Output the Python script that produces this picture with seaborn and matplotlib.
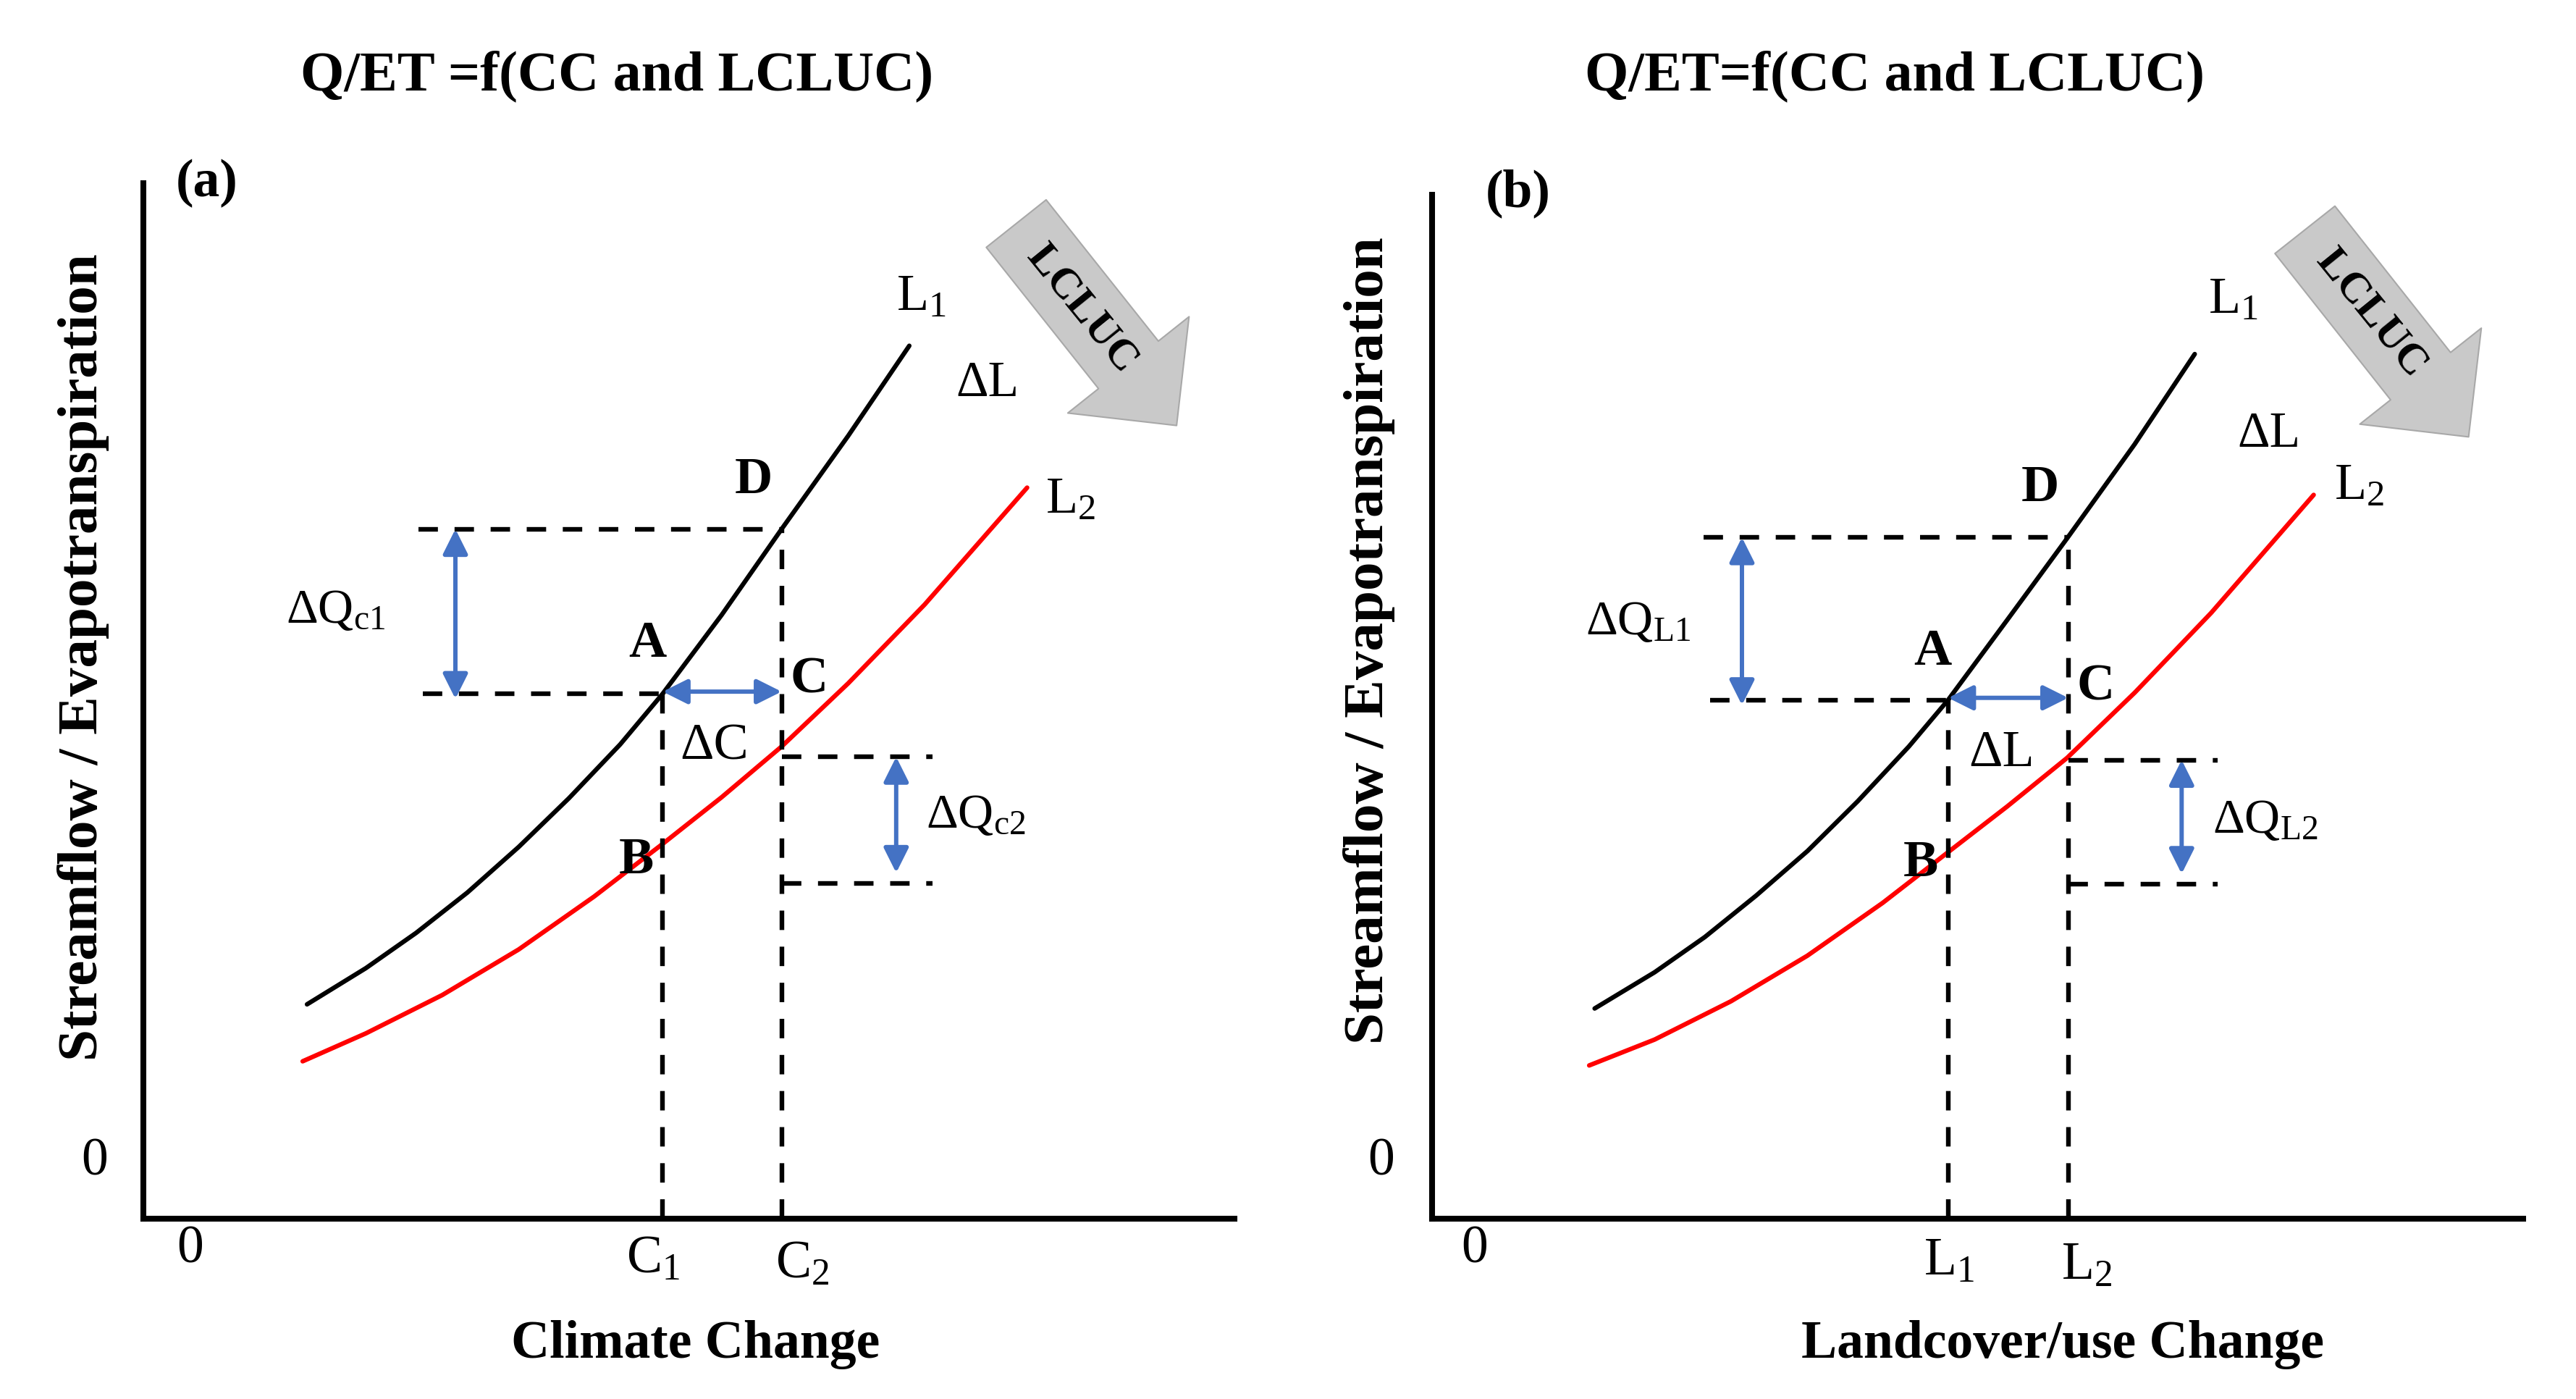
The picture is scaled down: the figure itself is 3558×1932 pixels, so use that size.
import matplotlib
matplotlib.use("Agg")
import matplotlib.pyplot as plt
import seaborn as sns
from matplotlib.patches import FancyArrowPatch, ArrowStyle

# curves (axis units 0-10 on both axes)
a_L1_x = [1.50, 2.04, 2.50, 2.97, 3.44, 3.90, 4.37, 4.76, 5.30, 5.85, 6.46, 7.02]
a_L1_y = [2.07, 2.42, 2.76, 3.15, 3.59, 4.06, 4.58, 5.07, 5.83, 6.66, 7.56, 8.43]
a_L2_x = [1.46, 2.04, 2.74, 3.44, 4.13, 4.76, 5.30, 5.85, 6.46, 7.16, 8.10]
a_L2_y = [1.52, 1.79, 2.16, 2.60, 3.11, 3.62, 4.07, 4.56, 5.17, 5.93, 7.06]

b_L1_x = [1.49, 2.04, 2.50, 2.97, 3.44, 3.90, 4.37, 4.73, 5.27, 5.82, 6.44, 6.99]
b_L1_y = [2.03, 2.38, 2.72, 3.12, 3.55, 4.03, 4.56, 5.01, 5.78, 6.57, 7.48, 8.35]
b_L2_x = [1.44, 2.04, 2.74, 3.44, 4.13, 4.73, 5.27, 5.82, 6.44, 7.14, 8.08]
b_L2_y = [1.48, 1.73, 2.10, 2.54, 3.05, 3.54, 3.98, 4.45, 5.08, 5.85, 6.99]

# change points (x1, x2) and levels (A, D, C, lower bound of dQ2)
a_change = [4.76, 5.85]
a_levels = [5.07, 6.66, 4.46, 3.24]
b_change = [4.73, 5.83]
b_levels = [5.01, 6.58, 4.43, 3.23]

titles = ["Q/ET =f(CC and LCLUC)", "Q/ET=f(CC and LCLUC)"]
panel_tags = ["(a)", "(b)"]
x_labels = ["Climate Change", "Landcover/use Change"]
y_label = "Streamflow / Evapotranspiration"
tick_names = [["C$_{\\mathrm{1}}$", "C$_{\\mathrm{2}}$"], ["L$_{\\mathrm{1}}$", "L$_{\\mathrm{2}}$"]]
dq_names = [["ΔQ$_{\\mathrm{c1}}$", "ΔQ$_{\\mathrm{c2}}$"], ["ΔQ$_{\\mathrm{L1}}$", "ΔQ$_{\\mathrm{L2}}$"]]
dx_names = ["ΔC", "ΔL"]

sns.set_theme(style="white")
plt.rcParams["font.family"] = ["Liberation Serif", "DejaVu Serif"]
plt.rcParams["text.color"] = "black"
plt.rcParams["mathtext.fontset"] = "custom"
plt.rcParams["mathtext.rm"] = "Liberation Serif"
plt.rcParams["mathtext.it"] = "Liberation Serif:italic"
plt.rcParams["mathtext.bf"] = "Liberation Serif:bold"

W, H = 3558, 1932
fig = plt.figure(figsize=(W / 100, H / 100), dpi=100)
fig.patch.set_facecolor("white")

BLUE = "#4472C4"
DASH = (0, (4.2, 3.6))


def draw_panel(ax, L1x, L1y, L2x, L2y, change, levels, i, lay):
    x1, x2 = change
    ya, yd, yc, ylow = levels
    ax.set_xlim(0, 10)
    ax.set_ylim(0, 10)
    ax.set_xticks([])
    ax.set_yticks([])
    ax.set_facecolor("white")
    for s in ["top", "right"]:
        ax.spines[s].set_visible(False)
    for s in ["left", "bottom"]:
        ax.spines[s].set_linewidth(5.8)
        ax.spines[s].set_color("black")
    ax.spines["left"].set_bounds(0, lay["spine_top"])

    sns.lineplot(x=L1x, y=L1y, ax=ax, color="black", linewidth=4.5,
                 sort=False, estimator=None, legend=False)
    sns.lineplot(x=L2x, y=L2y, ax=ax, color="#ff0000", linewidth=4.5,
                 sort=False, estimator=None, legend=False)
    for ln in ax.lines:
        ln.set_solid_joinstyle("round")

    dk = dict(color="black", lw=4.6, ls=DASH, zorder=3)
    ax.plot([x1, x1], [0, ya], **dk)
    ax.plot([x2, x2], [0, yd], **dk)
    ax.plot([lay["top_start"], x2], [yd, yd], **dk)
    ax.plot([lay["low_start"], x1], [ya, ya], **dk)
    ax.plot([x2, lay["small_end"]], [yc, yc], **dk)
    ax.plot([x2, lay["small_end"]], [ylow, ylow], **dk)

    ap = dict(arrowstyle="<|-|>,head_length=0.4,head_width=0.2", color=BLUE,
              lw=4.3, mutation_scale=52, shrinkA=0, shrinkB=0)
    ax.annotate("", xy=(lay["arr1_x"], yd), xytext=(lay["arr1_x"], ya - 0.05),
                arrowprops=ap, zorder=4)
    ax.annotate("", xy=(x1, ya + 0.02), xytext=(x2, ya + 0.02),
                arrowprops=ap, zorder=4)
    ax.annotate("", xy=(lay["arr2_x"], yc), xytext=(lay["arr2_x"], ylow + 0.1),
                arrowprops=ap, zorder=4)

    # big grey LCLUC arrow
    big = FancyArrowPatch(lay["big_from"], lay["big_to"],
                          arrowstyle=ArrowStyle.Simple(head_length=77, head_width=154,
                                                       tail_width=76),
                          mutation_scale=1, shrinkA=0, shrinkB=0,
                          fc="#c9c9c9", ec="#a8a8a8", lw=1.5, zorder=2,
                          clip_on=False)
    ax.add_patch(big)
    ax.text(*lay["lcluc"], "LCLUC", fontsize=43, fontweight="bold", rotation=-51,
            rotation_mode="anchor", ha="center", va="center", zorder=5)

    t = lay["txt"]
    ax.text(*t["title"], titles[i], fontsize=56, fontweight="bold", ha="center", va="center")
    ax.text(*t["tag"], panel_tags[i], fontsize=53, fontweight="bold", ha="center", va="center")
    ax.text(*t["ylab"], y_label, fontsize=57, fontweight="bold", rotation=90,
            ha="center", va="center")
    ax.text(*t["xlab"], x_labels[i], fontsize=53, fontweight="bold", ha="center", va="center")
    ax.text(*t["zero_y"], "0", fontsize=53, ha="center", va="center")
    ax.text(*t["zero_x"], "0", fontsize=53, ha="center", va="center")
    ax.text(*t["t1"], tick_names[i][0], fontsize=53, ha="center", va="center")
    ax.text(*t["t2"], tick_names[i][1], fontsize=53, ha="center", va="center")
    ax.text(*t["dq1"], dq_names[i][0], fontsize=49, ha="center", va="center")
    ax.text(*t["dq2"], dq_names[i][1], fontsize=49, ha="center", va="center")
    ax.text(*t["dx"], dx_names[i], fontsize=52, ha="center", va="center")
    ax.text(*t["dL"], "ΔL", fontsize=50, ha="center", va="center")
    ax.text(*t["L1"], "L$_{\\mathrm{1}}$", fontsize=52, ha="center", va="center")
    ax.text(*t["L2"], "L$_{\\mathrm{2}}$", fontsize=52, ha="center", va="center")
    for k in ["A", "B", "C", "D"]:
        ax.text(*t[k], k, fontsize=52, fontweight="bold", ha="center", va="center", zorder=5)


ax_a = fig.add_axes([198 / W, 1 - 1683 / H, 1507 / W, 1430 / H])
ax_b = fig.add_axes([1978 / W, 1 - 1683 / H, 1507 / W, 1430 / H])

lay_a = dict(spine_top=10.0, top_start=2.52, low_start=2.56, small_end=7.23,
             arr1_x=2.86, arr2_x=6.90,
             big_from=(8.00, 9.61), big_to=(9.47, 7.66), lcluc=(8.60, 8.78),
             txt=dict(title=(4.34, 11.03), tag=(0.58, 10.0), ylab=(-0.55, 5.42),
                      xlab=(5.06, -1.22), zero_y=(-0.45, 0.55), zero_x=(0.43, -0.30),
                      t1=(4.67, -0.40), t2=(6.04, -0.45),
                      dq1=(1.76, 5.87), dq2=(7.63, 3.89), dx=(5.23, 4.56),
                      dL=(7.74, 8.06), L1=(7.13, 8.90), L2=(8.50, 6.94),
                      A=(4.62, 5.55), B=(4.52, 3.46), C=(6.10, 5.20), D=(5.59, 7.13)))

lay_b = dict(spine_top=9.89, top_start=2.49, low_start=2.55, small_end=7.20,
             arr1_x=2.84, arr2_x=6.87,
             big_from=(8.00, 9.55), big_to=(9.50, 7.55), lcluc=(8.61, 8.74),
             txt=dict(title=(4.24, 11.03), tag=(0.79, 9.90), ylab=(-0.58, 5.58),
                      xlab=(5.78, -1.22), zero_y=(-0.47, 0.55), zero_x=(0.39, -0.30),
                      t1=(4.74, -0.42), t2=(6.00, -0.46),
                      dq1=(1.89, 5.76), dq2=(7.64, 3.84), dx=(5.22, 4.49),
                      dL=(7.67, 7.57), L1=(7.34, 8.87), L2=(8.50, 7.07),
                      A=(4.59, 5.47), B=(4.48, 3.43), C=(6.08, 5.13), D=(5.57, 7.05)))

draw_panel(ax_a, a_L1_x, a_L1_y, a_L2_x, a_L2_y, a_change, a_levels, 0, lay_a)
draw_panel(ax_b, b_L1_x, b_L1_y, b_L2_x, b_L2_y, b_change, b_levels, 1, lay_b)

fig.savefig("out.png", dpi=100, facecolor="white")
